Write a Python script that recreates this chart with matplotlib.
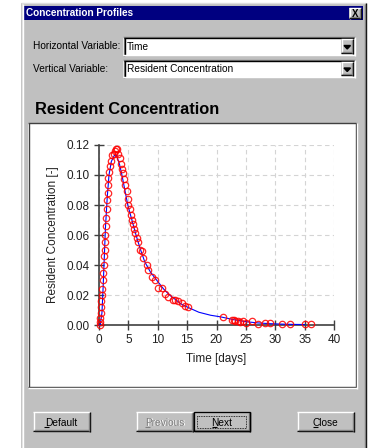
import numpy as np
import matplotlib.pyplot as plt
from matplotlib.patches import Rectangle

# model curve (blue line)
model_t = [0.0, 0.2, 0.5, 0.7, 0.9, 1.1, 1.4, 1.7, 2.1, 2.6, 3.0, 3.5, 3.9, 4.4, 4.9,
           5.6, 6.3, 7.0, 7.8, 8.8, 10.0, 11.0, 12.0, 13.0, 14.0, 15.0, 17.0, 19.0,
           20.6, 23.0, 25.0, 27.0, 29.0, 31.0, 33.0, 35.0]
model_c = [0.0, 0.0, 0.008, 0.025, 0.045, 0.065, 0.085, 0.100, 0.109, 0.113, 0.113,
           0.107, 0.100, 0.090, 0.080, 0.070, 0.060, 0.051, 0.042, 0.035, 0.029, 0.024,
           0.020, 0.017, 0.014, 0.012, 0.0085, 0.0065, 0.0055, 0.0035, 0.0022, 0.0014,
           0.0009, 0.0006, 0.0004, 0.0003]

# measured points (red circles)
obs_t = [0.15, 0.2, 0.25, 0.3, 0.35, 0.4, 0.45, 0.55, 0.6, 0.7, 0.8, 0.85, 0.95, 1.0,
         1.05, 1.15, 1.2, 1.3, 1.35, 1.45, 1.5, 1.6, 1.7, 1.8, 2.0, 2.2, 2.5, 2.7, 2.9,
         3.1, 3.3, 3.5, 3.7, 3.9, 4.1, 4.3, 4.5, 4.7, 4.9, 5.0, 5.2, 5.4, 5.6, 5.8, 6.0,
         6.2, 6.4, 6.6, 7.0, 7.3, 7.5, 8.1, 8.4, 9.0, 9.5, 10.0, 10.7, 11.2, 11.8, 12.6,
         13.0, 13.5, 14.1, 14.7, 15.2, 21.1, 22.6, 23.0, 23.2, 23.6, 24.0, 24.5, 25.0,
         26.0, 27.0, 28.3, 29.1, 31.2, 32.5, 35.0, 36.0]
obs_c = [0.0, 0.002, 0.005, 0.008, 0.012, 0.016, 0.020, 0.024, 0.030, 0.035, 0.040,
         0.046, 0.050, 0.055, 0.060, 0.066, 0.071, 0.077, 0.083, 0.088, 0.093, 0.098,
         0.102, 0.106, 0.109, 0.113, 0.114, 0.116, 0.117, 0.117, 0.114, 0.111, 0.107,
         0.104, 0.101, 0.097, 0.093, 0.089, 0.084, 0.080, 0.077, 0.073, 0.070, 0.067,
         0.064, 0.061, 0.058, 0.055, 0.050, 0.049, 0.045, 0.040, 0.037, 0.032, 0.030,
         0.025, 0.025, 0.021, 0.019, 0.017, 0.017, 0.016, 0.015, 0.013, 0.012, 0.0053,
         0.0033, 0.0033, 0.003, 0.0025, 0.002, 0.003, 0.0015, 0.0025, 0.001, 0.0013,
         0.0013, 0.0008, 0.0008, 0.0005, 0.0005]

x_ticks = [0, 5, 10, 15, 20, 25, 30, 35, 40]
y_ticks = [0.0, 0.02, 0.04, 0.06, 0.08, 0.10, 0.12]

W, H = 372, 448
GRAY = '#c0c0c0'
DARK = '#808080'
UI_FONT = 'Liberation Sans'

fig = plt.figure(figsize=(W / 100, H / 100), dpi=100, facecolor='white')
bg = fig.add_axes([0, 0, 1, 1])
bg.set_xlim(0, W)
bg.set_ylim(H, 0)
bg.axis('off')


def rect(x0, y0, x1, y1, fc='none', ec='none', lw=1, z=1, **kw):
    bg.add_patch(Rectangle((x0, y0), x1 - x0, y1 - y0, facecolor=fc,
                           edgecolor=ec, linewidth=lw, zorder=z, **kw))


def hline(x0, x1, y, c, z=2, lw=1, **kw):
    bg.plot([x0, x1], [y, y], color=c, lw=lw, zorder=z, solid_capstyle='butt', **kw)


def vline(x, y0, y1, c, z=2, lw=1, **kw):
    bg.plot([x, x], [y0, y1], color=c, lw=lw, zorder=z, solid_capstyle='butt', **kw)


def raised(x0, y0, x1, y1):
    rect(x0, y0, x1, y1, fc=GRAY)
    hline(x0, x1, y0 + 0.5, 'white')
    vline(x0 + 0.5, y0, y1, 'white')
    hline(x0, x1, y1 - 0.5, 'black')
    vline(x1 - 0.5, y0, y1, 'black')
    hline(x0 + 1, x1 - 1, y1 - 1.5, DARK)
    vline(x1 - 1.5, y0 + 1, y1 - 1, DARK)


def sunken(x0, y0, x1, y1):
    rect(x0, y0, x1, y1, fc='white')
    hline(x0, x1, y0 + 0.5, DARK)
    vline(x0 + 0.5, y0, y1, DARK)
    hline(x0 + 1, x1 - 1, y0 + 1.5, 'black')
    vline(x0 + 1.5, y0 + 1, y1 - 1, 'black')
    hline(x0, x1, y1 - 0.5, 'white')
    vline(x1 - 0.5, y0, y1, 'white')


def combo(x0, y0, x1, y1, label):
    sunken(x0, y0, x1, y1)
    raised(x1 - 14, y0 + 2, x1 - 2, y1 - 2)
    cx, cy = x1 - 8, (y0 + y1) / 2 + 1
    bg.fill([cx - 3, cx + 3.5, cx + 0.25], [cy - 2, cy - 2, cy + 1.5], color='black', zorder=3)
    bg.text(x0 + 4, (y0 + y1) / 2 + 0.5, label, fontsize=7.3, family=UI_FONT,
            va='center', ha='left', zorder=3)


def button(x0, y0, x1, y1, label, ul_w, enabled=True, default=False):
    raised(x0, y0, x1, y1)
    cx, cy = (x0 + x1) / 2, (y0 + y1) / 2 + 0.5
    if default:
        rect(x0 + 0.5, y0 + 0.5, x1 - 0.5, y1 - 0.5, ec='black', lw=1, z=3)
        rect(x0 + 4, y0 + 4, x1 - 4, y1 - 4, ec='black', lw=0.6, z=3, linestyle=(0, (1, 1)))
    if enabled:
        bg.text(cx, cy, label, fontsize=7.3, family=UI_FONT, ha='center', va='center', zorder=4)
        col = 'black'
    else:
        bg.text(cx + 1, cy + 1, label, fontsize=7.3, family=UI_FONT, color='white',
                ha='center', va='center', zorder=4)
        bg.text(cx, cy, label, fontsize=7.3, family=UI_FONT, color=DARK,
                ha='center', va='center', zorder=4)
        col = DARK
    # mnemonic underline under the first letter
    half = len(label) * 2.45
    hline(cx - half, cx - half + ul_w, cy + 5, col, z=4, lw=0.8)


# dialog window
rect(21, 3, 366, H + 5, fc=GRAY)
vline(21.5, 3, H, '#dfdfdf')
hline(21, 366, 3.5, '#dfdfdf')
vline(22.5, 4, H, 'white')
vline(365.5, 3, H, 'black')
vline(364.5, 4, H, DARK)

# title bar
rect(24, 6, 363, 20, fc='#000080')
bg.text(26, 13.5, 'Concentration Profiles', color='white', fontsize=7.2,
        fontweight='bold', family=UI_FONT, va='center', ha='left', zorder=3)
raised(349, 8, 361, 19)
bg.text(355, 13.8, 'X', fontsize=7, fontweight='bold', family=UI_FONT,
        ha='center', va='center', zorder=4)

# variable selectors
bg.text(33, 46, 'Horizontal Variable:', fontsize=7.3, family=UI_FONT, va='center', zorder=3)
bg.text(33, 69, 'Vertical Variable:', fontsize=7.3, family=UI_FONT, va='center', zorder=3)
combo(123, 37, 355, 56, 'Time')
combo(123, 60, 355, 78, 'Resident Concentration')

# chart panel
bg.text(35, 110, 'Resident Concentration', fontsize=11.8, fontweight='bold',
        family=UI_FONT, va='center', ha='left', zorder=3)
rect(28, 123, 356, 388, fc='white')
hline(28, 356, 123.5, '#404040')
vline(28.5, 123, 388, '#404040')
hline(28, 356, 387.5, '#404040')
vline(355.5, 123, 388, '#404040')
hline(28, 357, 388.5, 'white')
vline(356.5, 123, 389, 'white')

# buttons
button(33, 412, 90, 432, 'Default', 5)
button(136, 412, 193, 432, 'Previous', 5, enabled=False)
button(193, 412, 250, 432, 'Next', 5, default=True)
button(297, 412, 354, 432, 'Close', 5)

# the plot itself
ax = fig.add_axes([99 / W, 1 - 325 / H, 235 / W, 180 / H])
ax.set_facecolor('white')
ax.plot(model_t, model_c, color='#0000ff', lw=0.8, zorder=3, clip_on=False)
ax.plot(obs_t, obs_c, 'o', mfc='none', mec='#ff0000', ms=4.6, mew=0.9, alpha=0.85,
        zorder=4, clip_on=False)

ax.set_xlim(0, 40)
ax.set_ylim(0, 0.12)
ax.set_xticks(x_ticks)
ax.set_yticks(y_ticks)
ax.set_yticklabels(['%.2f' % v for v in y_ticks])
ax.grid(True, color='#d4d4d4', linestyle=(0, (4, 3)), lw=0.8)
ax.set_axisbelow(True)
for s in ['top', 'right']:
    ax.spines[s].set_visible(False)
for s in ['left', 'bottom']:
    ax.spines[s].set_color('#404040')
    ax.spines[s].set_linewidth(1.2)
ax.tick_params(direction='inout', length=7, width=1, color='#404040',
               labelsize=8.5, labelcolor='#202020', pad=3)
for lab in ax.get_xticklabels() + ax.get_yticklabels():
    lab.set_family(UI_FONT)
ax.set_xlabel('Time [days]', fontsize=8.5, family=UI_FONT, color='#202020', labelpad=5)
ax.set_ylabel('Resident Concentration [-]', fontsize=8.5, family=UI_FONT,
              color='#202020', labelpad=6)

fig.savefig('out.png', dpi=100, facecolor='white')
